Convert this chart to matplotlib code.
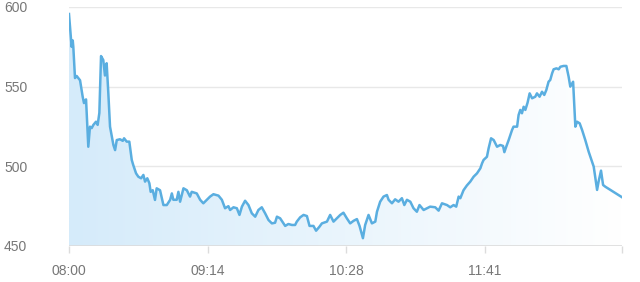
import matplotlib
matplotlib.use("Agg")
import matplotlib.pyplot as plt
import numpy as np
from matplotlib.colors import LinearSegmentedColormap

# x positions (sample index along category axis) and values
xs = [0.0, 1.4, 2.0, 2.3, 3.2, 4.1, 5.9, 7.3, 8.0, 9.1, 10.3, 11.2, 12.1, 13.0, 14.4, 15.3, 16.2,
      17.1, 18.3, 19.2, 20.1, 21.0, 21.9, 23.7, 24.6, 25.5, 27.2, 28.7, 29.4, 30.8, 32.2, 33.5,
      34.3, 35.8, 37.0, 38.5, 39.7, 40.6, 41.8, 42.9, 43.6, 44.7, 45.9, 46.8, 48.6, 50.4, 52.2,
      54.0, 54.9, 55.7, 57.5, 58.4, 59.3, 61.1, 62.9, 64.6, 65.5, 68.2, 70.0, 71.7, 73.6, 75.3,
      77.1, 79.8, 81.6, 83.3, 85.1, 86.0, 87.8, 89.6, 91.0, 92.3, 94.0, 95.8, 97.6, 99.4, 101.1,
      102.9, 104.7, 106.5, 108.3, 110.0, 111.0, 112.7, 115.4, 117.1, 119.0, 120.7, 121.6, 123.4,
      125.2, 127.0, 128.4, 130.5, 131.9, 133.7, 135.0, 137.7, 139.4, 141.2, 143.0, 144.8, 146.5,
      148.3, 150.1, 151.9, 153.7, 155.1, 156.9, 158.1, 159.9, 161.7, 163.5, 164.4, 166.1, 167.9,
      169.7, 170.6, 172.4, 174.1, 175.9, 177.7, 179.0, 180.4, 182.2, 183.9, 185.7, 187.1, 189.3,
      191.1, 192.8, 195.5, 197.3, 199.1, 201.8, 203.5, 205.3, 206.7, 208.0, 208.9, 210.6, 212.4,
      214.2, 216.0, 217.8, 219.6, 220.5, 221.3, 222.2, 223.1, 224.0, 225.3, 226.7, 228.5, 230.2,
      231.7, 232.4, 233.4, 234.7, 236.5, 237.3, 239.2, 240.0, 240.9, 241.8, 242.7, 243.6, 244.8,
      245.9, 247.2, 248.9, 249.8, 251.2, 252.5, 253.7, 254.8, 256.0, 256.9, 257.9, 258.7, 260.2,
      261.4, 262.3, 264.0, 265.5, 266.7, 267.6, 269.1, 270.3, 271.2, 272.6, 273.9, 275.6, 277.4,
      279.2, 280.1, 281.9, 282.7, 284.0, 285.1, 286.3, 295.2]
values = [595.6, 575.0, 579.0, 575.0, 555.4, 556.7, 554.0, 543.7, 539.7, 542.0, 512.3, 524.9, 524.0,
          526.0, 528.0, 526.0, 533.5, 569.2, 566.7, 557.0, 564.7, 545.8, 524.9, 513.4, 510.2, 516.5,
          517.0, 516.0, 517.6, 515.5, 515.5, 504.0, 500.8, 495.6, 493.5, 492.5, 494.6, 490.4, 492.5,
          489.4, 484.0, 485.0, 478.9, 486.2, 485.0, 475.7, 475.7, 479.0, 483.0, 479.0, 479.0, 484.0,
          477.8, 486.2, 485.0, 481.0, 484.0, 483.0, 479.0, 476.8, 479.0, 481.0, 482.5, 481.6, 479.0,
          473.7, 475.0, 472.6, 474.3, 473.7, 469.5, 474.7, 478.4, 475.7, 470.5, 468.4, 472.6, 474.3,
          470.5, 466.3, 464.2, 464.6, 468.4, 467.4, 462.6, 463.8, 463.2, 463.2, 465.3, 468.0, 469.5,
          468.8, 462.6, 462.6, 459.6, 462.1, 464.2, 465.3, 469.5, 465.3, 467.4, 469.5, 470.9, 467.4,
          464.2, 465.8, 466.9, 462.6, 454.9, 463.2, 469.5, 464.2, 465.3, 471.5, 477.8, 481.0, 482.0,
          479.0, 476.8, 479.3, 477.8, 480.0, 475.7, 479.0, 477.8, 473.7, 471.5, 475.7, 472.6, 473.7,
          474.7, 474.3, 472.2, 476.8, 475.7, 474.3, 475.7, 474.7, 481.0, 480.0, 485.0, 488.0, 490.4,
          493.5, 495.6, 498.8, 501.9, 504.0, 505.0, 506.0, 511.3, 517.6, 516.5, 512.3, 513.4, 512.8,
          508.9, 512.3, 516.5, 522.8, 524.9, 524.9, 532.2, 535.4, 533.3, 537.4, 535.4, 540.0, 545.8,
          542.7, 543.7, 545.8, 543.7, 546.8, 544.8, 547.9, 553.1, 554.2, 558.4, 560.9, 561.5, 560.9,
          562.5, 563.0, 563.0, 556.3, 550.0, 553.1, 524.9, 528.0, 527.0, 522.8, 516.5, 509.2, 502.9,
          499.8, 485.2, 490.4, 497.3, 488.3, 487.2, 480.6]

tick_pos = [0, 74, 148, 222]
tick_labels = ["08:00", "09:14", "10:28", "11:41"]
y_ticks = [450, 500, 550, 600]

x_max = 295.2
line_color = "#5aaee0"
text_color = "#777777"

plt.rcParams['font.family'] = ['Liberation Sans', 'DejaVu Sans']

fig = plt.figure(figsize=(6.4, 2.82), dpi=100)
ax = fig.add_axes([69/640, 1-246/282, (622-69)/640, (246-7)/282])

ax.set_xlim(0, x_max)
ax.set_ylim(450, 600)

# gradient fill under the line
poly = ax.fill_between(xs, values, 450, color="none", linewidth=0)
cmap = LinearSegmentedColormap.from_list("g", ["#d5ebfa", "#ffffff"])
grad = np.linspace(0, 1, 256).reshape(1, -1)
im = ax.imshow(grad, extent=[0, x_max, 450, 600], aspect="auto", cmap=cmap,
               origin="lower", zorder=1, interpolation="bilinear")
path = poly.get_paths()[0]
im.set_clip_path(path, transform=ax.transData)

ax.plot(xs, values, color=line_color, linewidth=1.8, zorder=3, solid_joinstyle="round")

# grid
for yv in y_ticks[1:]:
    ax.axhline(yv, color="#e8e8e8", linewidth=1, zorder=0)
ax.axhline(450, color="#dcdcdc", linewidth=1.2, zorder=2)

for s in ax.spines.values():
    s.set_visible(False)

ax.set_yticks(y_ticks)
ax.set_yticklabels([str(v) for v in y_ticks])
ax.tick_params(axis="y", length=0, pad=30, labelsize=10, labelcolor=text_color)

ax.set_xticks(tick_pos)
ax.set_xticklabels(tick_labels)
ax.set_xticks([x_max], minor=True)
ax.tick_params(axis="x", which="both", length=5, width=1, color="#dcdcdc", pad=8,
               labelsize=10, labelcolor=text_color)

fig.savefig("out.png", dpi=100)
